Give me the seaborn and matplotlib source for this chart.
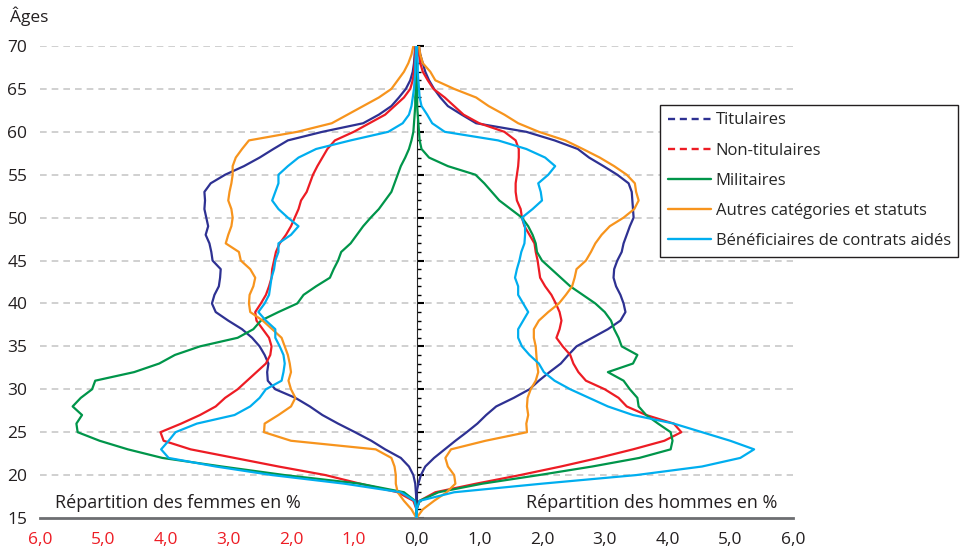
import numpy as np
import pandas as pd
import matplotlib
matplotlib.use('Agg')
import matplotlib.pyplot as plt
from matplotlib.lines import Line2D
from matplotlib.ticker import MultipleLocator, FixedLocator
import seaborn as sns

# Ages 15 a 70
ages = list(range(15, 71))

categories = ['Titulaires', 'Non-titulaires', 'Militaires',
              'Autres catégories et statuts', 'Bénéficiaires de contrats aidés']
couleurs = ['#2E3192', '#ED1C24', '#00954A', '#F7941D', '#00AEEF']

# Répartition des femmes en %
titulaires_f = [0.0, 0.0, 0.0, 0.01, 0.02, 0.05, 0.12, 0.25, 0.5, 0.72,
                0.98, 1.25, 1.5, 1.7, 1.93, 2.25, 2.37, 2.38, 2.36, 2.42,
                2.5, 2.62, 2.78, 3.0, 3.2, 3.26, 3.22, 3.15, 3.13, 3.12,
                3.25, 3.27, 3.3, 3.36, 3.32, 3.35, 3.38, 3.37, 3.38, 3.28,
                3.05, 2.75, 2.5, 2.28, 2.05, 1.5, 0.85, 0.6, 0.4, 0.28,
                0.17, 0.1, 0.06, 0.04, 0.03, 0.02]
nontit_f = [0.0, 0.0, 0.05, 0.3, 0.9, 1.45, 2.2, 2.9, 3.6, 4.03,
            4.08, 3.75, 3.45, 3.2, 3.05, 2.85, 2.7, 2.55, 2.4, 2.33,
            2.31, 2.35, 2.45, 2.55, 2.57, 2.48, 2.4, 2.35, 2.31, 2.3,
            2.27, 2.24, 2.18, 2.08, 2.0, 1.94, 1.88, 1.84, 1.75, 1.7,
            1.65, 1.58, 1.5, 1.42, 1.3, 1.0, 0.75, 0.5, 0.35, 0.2,
            0.1, 0.06, 0.04, 0.03, 0.02, 0.02]
militaires_f = [0.0, 0.0, 0.02, 0.2, 0.9, 2.1, 3.1, 4.05, 4.6, 5.05,
                5.4, 5.42, 5.33, 5.48, 5.35, 5.17, 5.12, 4.5, 4.1, 3.85,
                3.45, 2.85, 2.6, 2.48, 2.2, 1.9, 1.8, 1.6, 1.38, 1.32,
                1.25, 1.2, 1.05, 0.95, 0.85, 0.73, 0.6, 0.5, 0.4, 0.35,
                0.3, 0.25, 0.18, 0.12, 0.08, 0.05, 0.04, 0.03, 0.02, 0.02,
                0.01, 0.01, 0.01, 0.01, 0.0, 0.0]
autres_f = [0.0, 0.08, 0.2, 0.3, 0.33, 0.33, 0.35, 0.4, 0.65, 2.0,
            2.43, 2.42, 2.2, 2.0, 1.93, 2.0, 2.04, 2.0, 2.02, 2.05,
            2.1, 2.15, 2.3, 2.45, 2.65, 2.67, 2.66, 2.6, 2.57, 2.65,
            2.8, 2.83, 3.04, 3.0, 2.95, 2.93, 2.95, 3.0, 2.98, 2.95,
            2.93, 2.93, 2.88, 2.78, 2.67, 1.9, 1.35, 1.1, 0.85, 0.6,
            0.4, 0.3, 0.2, 0.13, 0.08, 0.05]
benef_f = [0.0, 0.0, 0.03, 0.25, 1.15, 2.3, 3.2, 3.95, 4.07, 3.95,
           3.84, 3.5, 2.9, 2.65, 2.5, 2.4, 2.15, 2.12, 2.1, 2.12,
           2.18, 2.25, 2.25, 2.4, 2.52, 2.42, 2.35, 2.33, 2.31, 2.27,
           2.25, 2.2, 2.2, 2.0, 1.88, 2.05, 2.2, 2.3, 2.25, 2.2,
           2.2, 2.05, 1.88, 1.6, 1.05, 0.45, 0.22, 0.12, 0.08, 0.06,
           0.04, 0.03, 0.02, 0.02, 0.01, 0.01]

# Répartition des hommes en %
titulaires_h = [0.0, 0.0, 0.0, 0.0, 0.03, 0.07, 0.14, 0.28, 0.45, 0.62,
                0.8, 0.97, 1.11, 1.27, 1.55, 1.8, 1.95, 2.12, 2.3, 2.42,
                2.55, 2.8, 3.05, 3.25, 3.33, 3.3, 3.25, 3.18, 3.14, 3.15,
                3.2, 3.27, 3.3, 3.35, 3.4, 3.46, 3.45, 3.44, 3.43, 3.38,
                3.2, 2.98, 2.75, 2.57, 2.2, 1.75, 0.95, 0.72, 0.5, 0.38,
                0.28, 0.2, 0.14, 0.1, 0.06, 0.04]
nontit_h = [0.0, 0.0, 0.05, 0.3, 0.95, 1.65, 2.3, 2.9, 3.45, 3.95,
            4.22, 4.1, 3.66, 3.35, 3.22, 3.0, 2.7, 2.58, 2.5, 2.45,
            2.33, 2.23, 2.28, 2.31, 2.28, 2.22, 2.15, 2.05, 1.97, 1.95,
            1.93, 1.9, 1.88, 1.8, 1.72, 1.68, 1.66, 1.6, 1.58, 1.58,
            1.6, 1.62, 1.63, 1.63, 1.58, 1.4, 1.0, 0.75, 0.6, 0.45,
            0.27, 0.18, 0.1, 0.06, 0.04, 0.03]
militaires_h = [0.0, 0.0, 0.05, 0.35, 1.05, 1.95, 2.8, 3.55, 4.05, 4.08,
                4.05, 3.85, 3.66, 3.54, 3.52, 3.4, 3.3, 3.05, 3.45, 3.52,
                3.27, 3.22, 3.15, 3.1, 3.0, 2.85, 2.65, 2.45, 2.3, 2.15,
                2.0, 1.92, 1.9, 1.85, 1.78, 1.68, 1.5, 1.32, 1.2, 1.08,
                0.94, 0.5, 0.2, 0.08, 0.05, 0.04, 0.03, 0.02, 0.01, 0.01,
                0.01, 0.01, 0.0, 0.0, 0.0, 0.0]
autres_h = [0.0, 0.1, 0.28, 0.48, 0.62, 0.6, 0.5, 0.46, 0.55, 1.1,
            1.76, 1.75, 1.78, 1.76, 1.77, 1.82, 1.9, 1.94, 1.92, 1.91,
            1.9, 1.87, 1.87, 1.95, 2.1, 2.27, 2.38, 2.48, 2.52, 2.55,
            2.7, 2.78, 2.85, 2.95, 3.08, 3.3, 3.47, 3.54, 3.5, 3.48,
            3.35, 3.15, 2.92, 2.65, 2.37, 1.95, 1.62, 1.4, 1.15, 0.95,
            0.6, 0.3, 0.22, 0.1, 0.06, 0.04]
benef_h = [0.0, 0.0, 0.05, 0.6, 2.0, 3.5, 4.55, 5.16, 5.38, 5.0,
           4.55, 4.1, 3.45, 3.05, 2.75, 2.45, 2.2, 2.03, 1.95, 1.8,
           1.68, 1.62, 1.62, 1.7, 1.78, 1.7, 1.62, 1.62, 1.57, 1.6,
           1.64, 1.67, 1.72, 1.73, 1.73, 1.68, 1.85, 2.0, 1.98, 1.94,
           2.1, 2.21, 2.05, 1.75, 1.3, 0.45, 0.25, 0.17, 0.08, 0.05,
           0.04, 0.03, 0.02, 0.02, 0.01, 0.01]

femmes = [titulaires_f, nontit_f, militaires_f, autres_f, benef_f]
hommes = [titulaires_h, nontit_h, militaires_h, autres_h, benef_h]

# table longue : femmes en négatif, hommes en positif
lignes = []
for cat, f, h in zip(categories, femmes, hommes):
    for a, vf, vh in zip(ages, f, h):
        lignes.append({'age': a, 'pct': -vf, 'categorie': cat, 'sexe': 'F'})
        lignes.append({'age': a, 'pct': vh, 'categorie': cat, 'sexe': 'H'})
df = pd.DataFrame(lignes)

sns.set_style('white')
plt.rcParams['font.family'] = ['Open Sans', 'DejaVu Sans']

fig = plt.figure(figsize=(9.7, 5.5), dpi=100)
ax = fig.add_axes([40 / 970, 1 - 518 / 550, 753 / 970, 472 / 550])

# grille pointillée
for a in range(20, 71, 5):
    ax.axhline(a, color='#c8c8c8', lw=1.2, ls=(0, (4, 3)), zorder=0)

sns.lineplot(data=df, x='pct', y='age', hue='categorie', units='sexe',
             estimator=None, orient='y', palette=dict(zip(categories, couleurs)),
             hue_order=categories, linewidth=1.6, legend=False, ax=ax, zorder=3)

ax.set_xlim(-6, 6)
ax.set_ylim(15, 70)
ax.set_xlabel('')
ax.set_ylabel('')

for s in ['left', 'right', 'top']:
    ax.spines[s].set_visible(False)
ax.spines['bottom'].set_color('#6d6e71')
ax.spines['bottom'].set_linewidth(2)

ax.set_yticks(range(15, 71, 5))
ax.tick_params(axis='y', length=0, pad=9, labelsize=12.5, labelcolor='#231f20')
xt = np.arange(-6, 7, 1)
ax.set_xticks(xt)
ax.set_xticklabels([f'{abs(v):.1f}'.replace('.', ',') for v in xt])
ax.tick_params(axis='x', length=5, width=1.2, color='#6d6e71', pad=5, labelsize=12.5)
for lab, v in zip(ax.get_xticklabels(), xt):
    lab.set_color('#ED1C24' if v < 0 else '#231f20')

# axe central
sec = ax.secondary_yaxis(0.5)
sec.yaxis.set_major_locator(FixedLocator(list(range(15, 71, 5))))
sec.yaxis.set_minor_locator(MultipleLocator(1))
sec.set_yticklabels([])
sec.spines['left'].set_color('black')
sec.spines['left'].set_linewidth(1.5)
sec.tick_params(which='major', length=5, width=1.5, color='black')
sec.tick_params(which='minor', length=3, width=1, color='black')

ax.text(0.02, 0.012, 'Répartition des femmes en %', transform=ax.transAxes,
        ha='left', va='bottom', fontsize=13, color='#231f20')
ax.text(0.979, 0.012, 'Répartition des hommes en %', transform=ax.transAxes,
        ha='right', va='bottom', fontsize=13, color='#231f20')
fig.text(10 / 970, 1 - 16 / 550, 'Âges', ha='left', va='center',
         fontsize=12.5, color='#231f20')

handles = [
    Line2D([], [], color=couleurs[0], lw=1.7, ls=(0, (3, 2))),
    Line2D([], [], color=couleurs[1], lw=1.7, ls=(0, (3, 2))),
    Line2D([], [], color=couleurs[2], lw=1.7),
    Line2D([], [], color=couleurs[3], lw=1.7),
    Line2D([], [], color=couleurs[4], lw=1.7),
]
leg = ax.legend(handles, categories, loc='upper left',
                bbox_to_anchor=(660 / 970, 1 - 105 / 550),
                bbox_transform=fig.transFigure, borderaxespad=0,
                frameon=True, fancybox=False, framealpha=1, edgecolor='#231f20',
                fontsize=12, handlelength=2.6, handletextpad=0.3,
                labelspacing=0.85, borderpad=0.45)
leg.get_frame().set_linewidth(1.0)
leg.set_zorder(5)

fig.savefig('out.png', dpi=100)
